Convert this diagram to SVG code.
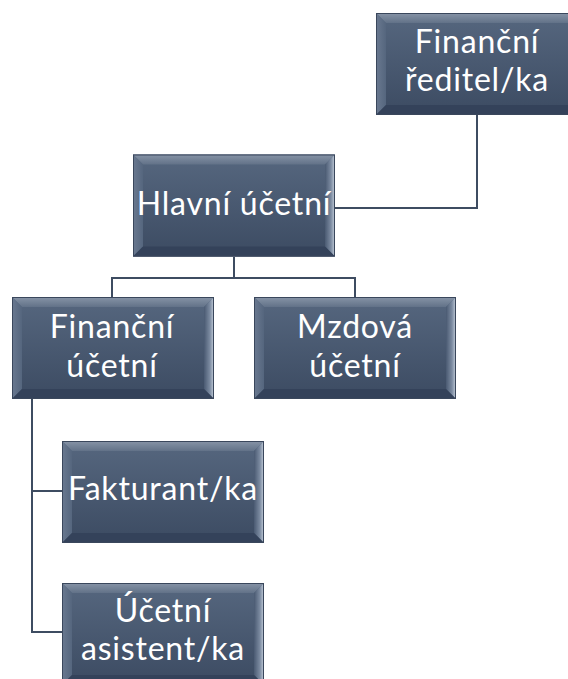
<svg xmlns="http://www.w3.org/2000/svg" width="568" height="679" viewBox="0 0 568 679">
<style>
.lbl{font-family:Lato,"Liberation Sans",sans-serif;font-size:32px;letter-spacing:0.8px;fill:#ffffff;text-anchor:middle}
.con{fill:none;stroke:#3e4c61;stroke-width:2}
</style>
<defs>
<linearGradient id="face" x1="0" y1="0" x2="0" y2="1">
<stop offset="0" stop-color="#56677f"/>
<stop offset="1" stop-color="#3c4b62"/>
</linearGradient>
<linearGradient id="top" x1="0" y1="0" x2="0" y2="1">
<stop offset="0" stop-color="#8794a7"/>
<stop offset="1" stop-color="#627288"/>
</linearGradient>
<linearGradient id="left" x1="0" y1="0" x2="1" y2="0">
<stop offset="0" stop-color="#6a7990"/>
<stop offset="1" stop-color="#55667e"/>
</linearGradient>
<linearGradient id="right" x1="0" y1="0" x2="1" y2="0">
<stop offset="0" stop-color="#4a5a72"/>
<stop offset="0.6" stop-color="#7d8ca2"/>
<stop offset="1" stop-color="#c4ceda"/>
</linearGradient>
<symbol id="box" viewBox="0 0 202 102">
<rect x="0" y="0" width="202" height="102" fill="url(#face)"/>
<polygon points="0,0 202,0 192,10 10,10" fill="url(#top)"/>
<polygon points="0,0 10,10 10,92 0,102" fill="url(#left)"/>
<polygon points="202,0 202,102 192,92 192,10" fill="url(#right)"/>
<polygon points="0,102 10,92 192,92 202,102" fill="#34425a"/>
<rect x="0.5" y="0.5" width="201" height="101" fill="none" stroke="#3a475c" stroke-width="1"/>
</symbol>
</defs>
<g id="connectors">
<path class="con" d="M477,113 V208 H335"/>
<path class="con" d="M234,257 V278 M112,297 V278 H355 V297"/>
<path class="con" d="M32,399 V632 H62 M32,491 H62"/>
</g>
<g id="financni-reditel">
<use href="#box" x="376" y="13" width="202" height="102"/>
<text class="lbl" x="477" y="53">Finanční</text>
<text class="lbl" x="477" y="91">ředitel/ka</text>
</g>
<g id="hlavni-ucetni">
<use href="#box" x="133" y="154" width="202" height="103"/>
<text class="lbl" x="234" y="215">Hlavní účetní</text>
</g>
<g id="financni-ucetni">
<use href="#box" x="12" y="297" width="202" height="102"/>
<text class="lbl" x="112" y="338">Finanční</text>
<text class="lbl" x="112" y="377">účetní</text>
</g>
<g id="mzdova-ucetni">
<use href="#box" x="254" y="297" width="202" height="102"/>
<text class="lbl" x="355" y="338">Mzdová</text>
<text class="lbl" x="355" y="377">účetní</text>
</g>
<g id="fakturant">
<use href="#box" x="62" y="441" width="202" height="102"/>
<text class="lbl" x="163" y="500">Fakturant/ka</text>
</g>
<g id="ucetni-asistent">
<use href="#box" x="62" y="583" width="202" height="102"/>
<text class="lbl" x="163" y="622">Účetní</text>
<text class="lbl" x="163" y="660">asistent/ka</text>
</g>
</svg>
